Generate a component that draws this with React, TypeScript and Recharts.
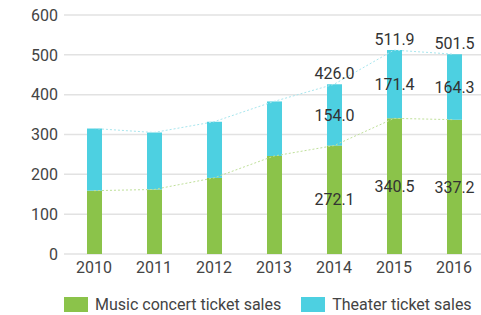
import {
  ComposedChart,
  Bar,
  Line,
  XAxis,
  YAxis,
  CartesianGrid,
  Legend,
  LabelList,
} from "recharts";

const years = ["2010", "2011", "2012", "2013", "2014", "2015", "2016"];
const music = [159, 162, 191, 246, 272.1, 340.5, 337.2];
const theater = [156, 143, 141, 137, 154.0, 171.4, 164.3];
const totals = [315, 305, 332, 383, 426.0, 511.9, 501.5];
const labeledYears = ["2014", "2015", "2016"];
const yTicks = [0, 100, 200, 300, 400, 500, 600];

const GREEN = "#8bc34a";
const CYAN = "#4dd0e1";
const TEXT = "#444";

const data = years.map((year, i) => {
  const show = labeledYears.includes(year);
  return {
    year,
    music: music[i],
    theater: theater[i],
    total: totals[i],
    musicLabel: show ? music[i].toFixed(1) : "",
    theaterLabel: show ? theater[i].toFixed(1) : "",
    totalLabel: show ? totals[i].toFixed(1) : "",
  };
});

const legendItems = [
  { name: "Music concert ticket sales", color: GREEN },
  { name: "Theater ticket sales", color: CYAN },
];

function ChartLegend() {
  return (
    <div style={{ display: "flex", alignItems: "center", height: 20 }}>
      {legendItems.map((item) => (
        <div
          key={item.name}
          style={{ display: "flex", alignItems: "center", marginRight: 20 }}
        >
          <span
            style={{
              display: "inline-block",
              width: 24,
              height: 15,
              background: item.color,
              marginRight: 7,
            }}
          />
          <span style={{ fontSize: 16, color: TEXT }}>{item.name}</span>
        </div>
      ))}
    </div>
  );
}

export default function App() {
  return (
    <div
      style={{
        position: "absolute",
        left: 0,
        top: 0,
        width: 481,
        height: 315,
        overflow: "hidden",
        background: "#fff",
        fontFamily: "Roboto, sans-serif",
      }}
    >
      <ComposedChart
        width={490}
        height={315}
        data={data}
        margin={{ top: 15, right: 6, bottom: 1, left: 8 }}
      >
        <CartesianGrid vertical={false} stroke="#e2e2e2" strokeWidth={1.5} />
        <XAxis
          dataKey="year"
          axisLine={false}
          tickLine={false}
          height={40}
          tick={{ fill: TEXT, fontSize: 16 }}
        />
        <YAxis
          domain={[0, 600]}
          ticks={yTicks}
          width={56}
          axisLine={false}
          tickLine={false}
          tickMargin={0}
          tick={{ fill: TEXT, fontSize: 16 }}
        />
        <Line
          dataKey="music"
          stroke="#bfe09a"
          strokeDasharray="2 2"
          strokeWidth={1}
          dot={false}
          isAnimationActive={false}
        />
        <Line
          dataKey="total"
          stroke="#a8e6ee"
          strokeDasharray="2 2"
          strokeWidth={1}
          dot={false}
          isAnimationActive={false}
        />
        <Bar dataKey="music" stackId="a" fill={GREEN} barSize={15} isAnimationActive={false}>
          <LabelList dataKey="musicLabel" position="center" fill="#333" fontSize={16} />
        </Bar>
        <Bar dataKey="theater" stackId="a" fill={CYAN} barSize={15} isAnimationActive={false}>
          <LabelList dataKey="theaterLabel" position="center" fill="#333" fontSize={16} />
          <LabelList dataKey="totalLabel" position="top" fill="#333" fontSize={16} />
        </Bar>
        <Legend
          verticalAlign="bottom"
          align="left"
          content={() => <ChartLegend />}
          wrapperStyle={{ left: 64, height: 20 }}
        />
      </ComposedChart>
    </div>
  );
}
